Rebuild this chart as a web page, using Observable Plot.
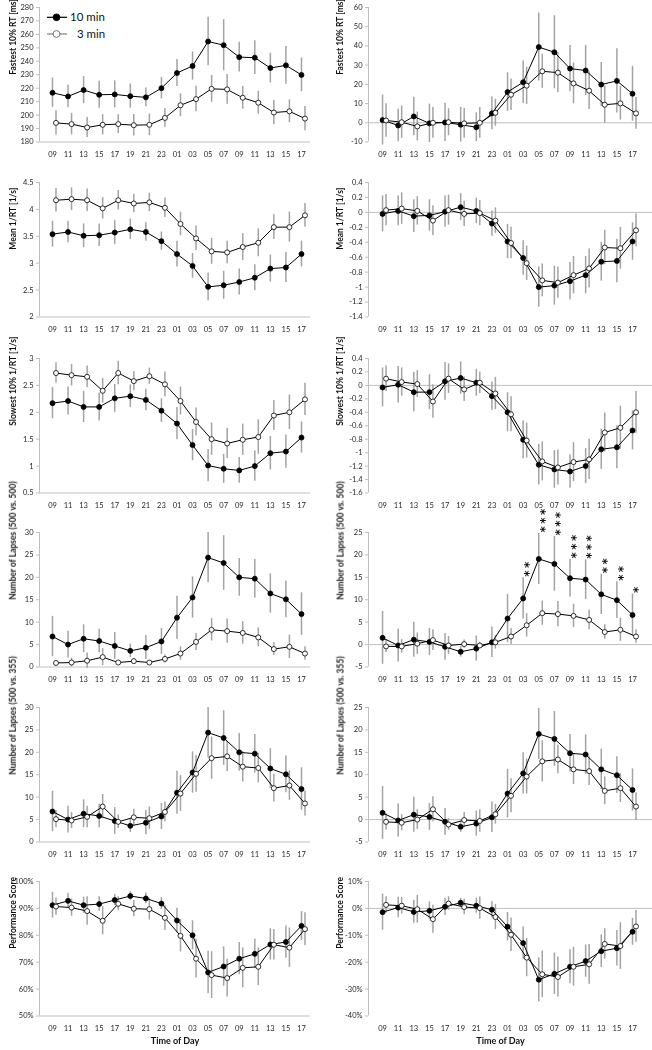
<!DOCTYPE html>
<html><head><meta charset="utf-8">
<script src="https://cdn.jsdelivr.net/npm/d3@7"></script>
<script src="https://cdn.jsdelivr.net/npm/@observablehq/plot@0.6"></script>
<style>
body{margin:0;background:#fff;}
#wrap{position:relative;width:652px;height:1050px;overflow:hidden;font-family:Lato,"Open Sans",sans-serif;background:#fff;}
#wrap svg{position:absolute;}
</style></head><body><div id="wrap"></div>
<script>
const hours = ["09","11","13","15","17","19","21","23","01","03","05","07","09","11","13","15","17"];

const fastRT10 = [216.6,213.9,218.6,215.1,215.4,214.1,213.2,220.0,231.3,236.5,254.7,252.0,243.1,242.7,235.0,237.0,229.9];
const fastRT10Err = [11,8.5,10,10,10,9,7,8,10,10.5,18,19,11,12.5,11,14,12.5];
const fastRT3 = [194.2,193.3,190.8,192.8,193.3,192.5,192.8,197.9,207.3,211.9,219.5,219.1,212.9,209.2,201.9,202.8,197.4];
const fastRT3Err = [9,8,7.5,7.5,7,8,8,7,8.5,9.5,10,11,8.5,8.5,9,8.5,9];

const fastDiff10 = [1.4,-1.4,3.3,-0.3,0.2,-1.0,-2.3,4.9,16.0,21.1,39.4,36.7,28.2,27.2,19.9,21.8,15.1];
const fastDiff10Err = [13,8.5,10,10,10,9,7.5,8.5,10,11,17.7,19,12,13,11.5,16.7,14.3];
const fastDiff3 = [1.2,0.3,-1.9,0,0.3,-0.3,0,5.2,14.6,19.3,26.8,26.1,20.5,16.7,9.4,10.1,4.9];
const fastDiff3Err = [8.7,8.4,7.5,8,7,7.7,8,7,8.2,9.7,8.9,10.4,10.6,9.8,9.7,8.7,8.2];

const meanRT10 = [3.54,3.58,3.51,3.52,3.57,3.63,3.58,3.41,3.17,2.95,2.56,2.59,2.65,2.73,2.90,2.92,3.17];
const meanRT10Err = [0.24,0.2,0.22,0.21,0.22,0.19,0.17,0.17,0.24,0.23,0.26,0.26,0.24,0.24,0.25,0.28,0.24];
const meanRT3 = [4.17,4.19,4.17,4.02,4.17,4.11,4.13,4.03,3.73,3.46,3.22,3.20,3.30,3.38,3.67,3.67,3.89];
const meanRT3Err = [0.22,0.21,0.21,0.2,0.18,0.17,0.17,0.18,0.22,0.23,0.24,0.21,0.25,0.26,0.23,0.28,0.22];

const meanDiff10 = [-0.02,0.02,-0.05,-0.04,0.01,0.07,0.02,-0.15,-0.39,-0.61,-1.00,-0.98,-0.92,-0.84,-0.66,-0.65,-0.39];
const meanDiff10Err = [0.24,0.2,0.22,0.21,0.21,0.18,0.17,0.17,0.23,0.23,0.27,0.26,0.25,0.25,0.26,0.29,0.25];
const meanDiff3 = [0.03,0.05,0.02,-0.11,0.03,-0.02,-0.01,-0.11,-0.41,-0.68,-0.91,-0.94,-0.84,-0.75,-0.47,-0.48,-0.24];
const meanDiff3Err = [0.21,0.21,0.19,0.2,0.2,0.17,0.17,0.17,0.21,0.23,0.22,0.21,0.25,0.26,0.23,0.28,0.22];

const slowRT10 = [2.17,2.21,2.10,2.10,2.26,2.30,2.23,2.03,1.79,1.39,1.01,0.95,0.92,1.00,1.24,1.27,1.53];
const slowRT10Err = [0.29,0.26,0.29,0.26,0.26,0.21,0.2,0.22,0.3,0.29,0.3,0.27,0.24,0.28,0.31,0.31,0.29];
const slowRT3 = [2.73,2.69,2.66,2.40,2.73,2.58,2.67,2.52,2.21,1.82,1.50,1.42,1.49,1.54,1.94,2.00,2.24];
const slowRT3Err = [0.19,0.2,0.2,0.23,0.22,0.18,0.15,0.23,0.26,0.26,0.3,0.28,0.29,0.32,0.28,0.32,0.3];

const slowDiff10 = [-0.03,0.01,-0.10,-0.10,0.06,0.11,0.04,-0.16,-0.40,-0.81,-1.18,-1.25,-1.28,-1.20,-0.95,-0.92,-0.67];
const slowDiff10Err = [0.29,0.27,0.29,0.26,0.28,0.24,0.2,0.21,0.29,0.28,0.3,0.28,0.25,0.26,0.3,0.32,0.29];
const slowDiff3 = [0.10,0.05,0.02,-0.24,0.10,-0.06,0.04,-0.12,-0.43,-0.82,-1.13,-1.22,-1.14,-1.10,-0.70,-0.63,-0.40];
const slowDiff3Err = [0.19,0.21,0.2,0.25,0.22,0.18,0.16,0.24,0.26,0.26,0.29,0.26,0.29,0.3,0.29,0.32,0.31];

const lapses10 = [6.8,5.0,6.3,5.8,4.7,3.6,4.3,5.7,11.0,15.5,24.4,23.2,20.0,19.7,16.4,15.1,11.8];
const lapses10Err = [4.5,3,3.1,2.6,3,1.5,2.7,2.9,4.8,4.6,5.6,6.1,4.2,4.3,4.4,4.1,4.75];
const lapses500_3 = [0.9,1.0,1.4,2.2,1.0,1.3,1.0,1.8,3.0,5.6,8.3,8.0,7.6,6.6,4.0,4.5,3.0];
const lapses500_3Err = [0.4,1.0,1.7,1.9,0.5,0.6,0.4,0.9,1.5,1.9,2.5,2.7,2.5,2.1,1.4,2.6,1.5];

const lapsesDiff10 = [1.5,-0.2,1.1,0.6,-0.5,-1.6,-0.9,0.5,5.8,10.3,19.1,18.0,14.8,14.5,11.2,9.9,6.6];
const lapsesDiff10Err = [5.9,3.7,3.9,3,3,1.2,2.8,3.4,5.4,4.6,5.7,6.1,4.2,4.4,4.5,4.1,4.7];
const lapses500Diff3 = [-0.4,-0.4,0.2,1.0,-0.2,0.1,-0.2,0.5,1.8,4.3,7.0,6.8,6.4,5.5,2.8,3.3,1.8];
const lapses500Diff3Err = [1.4,1.5,2.4,2.3,2.0,0.9,0.7,1.5,1.8,2.6,2.7,2.8,2.6,2.2,1.6,2.6,1.5];

const lapses355_3 = [5.1,4.8,5.6,7.9,4.5,5.5,5.3,6.7,10.8,15.2,18.7,19.1,16.8,16.5,12.0,12.6,8.6];
const lapses355_3Err = [1.9,1.8,2.4,2.7,1.5,1.8,2.5,2.2,4,4.1,4.7,3.4,3.4,3.3,3.1,3.3,2.8];
const lapses355Diff3 = [-0.5,-0.7,0,2.3,-1.1,-0.1,-0.3,1.2,5.3,9.6,13.0,13.4,11.2,10.8,6.4,7.0,2.9];
const lapses355Diff3Err = [1.8,1.8,2.2,2.8,1.3,1.7,2.5,2.2,3.8,3.9,4.6,3.2,3.4,3.2,3.1,3.2,3.1];

const perf10 = [91.2,92.8,91.2,91.6,93.1,94.6,93.7,91.8,85.5,80.0,66.2,68.4,71.3,73.1,76.6,77.5,83.5];
const perf10Err = [4.8,2.8,3,2.7,2.1,1.6,2,2.2,4.6,5.4,7.9,7.3,6,5.4,5.8,6,5.3];
const perf3 = [90.7,90.3,89.0,85.4,91.7,89.9,89.7,86.5,79.8,71.3,65.2,64.1,67.9,68.3,76.5,75.4,82.3];
const perf3Err = [3.2,3.2,5.3,5.2,2.6,3,4,4.7,6,7.2,8.7,7,7.4,7,5.7,7.3,6.1];

const perfDiff10 = [-1.4,0.3,-1.3,-0.9,0.6,2.1,1.0,-0.5,-6.8,-12.9,-26.5,-24.3,-21.7,-19.6,-15.9,-14.8,-8.7];
const perfDiff10Err = [6.7,3.8,4.2,3.3,3.2,1.6,2.8,3,5.3,6,8.2,7.7,6.3,6,6.1,6.6,5];
const perfDiff3 = [1.3,1.0,-0.3,-4.0,1.8,0.5,0.1,-3.2,-9.8,-18.3,-24.5,-25.5,-21.7,-20.8,-13.2,-14.0,-6.7];
const perfDiff3Err = [3,3.1,5.2,5.2,2.5,2.9,4.1,4.7,6.2,7.1,8.7,7.4,7.2,7.4,5.6,8.7,5.9];

const lapsesStars = ["","","","","","","","","","**","***","***","***","***","**","**","*"];

const ticksFast = [180,190,200,210,220,230,240,250,260,270,280];
const ticksFastDiff = [-10,0,10,20,30,40,50,60];
const ticksMean = [2,2.5,3,3.5,4,4.5];
const ticksMeanDiff = [-1.4,-1.2,-1,-0.8,-0.6,-0.4,-0.2,0,0.2,0.4];
const ticksSlow = [0.5,1,1.5,2,2.5,3];
const ticksSlowDiff = [-1.6,-1.4,-1.2,-1,-0.8,-0.6,-0.4,-0.2,0,0.2,0.4];
const ticksLapses = [0,5,10,15,20,25,30];
const ticksLapsesDiff = [-5,0,5,10,15,20,25];
const ticksPerf = [50,60,70,80,90,100];
const ticksPerfDiff = [-40,-30,-20,-10,0,10];

const seriesLegend = ["10 min", "3 min"];

const numFmt = d => String(Math.round(d * 10) / 10);
const pctFmt = d => Math.round(d) + "%";

const panels = [
  {col:0,row:0,label:"Fastest 10% RT [ms]",s10:fastRT10,e10:fastRT10Err,s3:fastRT3,e3:fastRT3Err,ticks:ticksFast,fmt:numFmt},
  {col:1,row:0,label:"Fastest 10% RT [ms]",s10:fastDiff10,e10:fastDiff10Err,s3:fastDiff3,e3:fastDiff3Err,ticks:ticksFastDiff,fmt:numFmt},
  {col:0,row:1,label:"Mean 1/RT [1/s]",s10:meanRT10,e10:meanRT10Err,s3:meanRT3,e3:meanRT3Err,ticks:ticksMean,fmt:numFmt},
  {col:1,row:1,label:"Mean 1/RT [1/s]",s10:meanDiff10,e10:meanDiff10Err,s3:meanDiff3,e3:meanDiff3Err,ticks:ticksMeanDiff,fmt:numFmt},
  {col:0,row:2,label:"Slowest 10% 1/RT [1/s]",s10:slowRT10,e10:slowRT10Err,s3:slowRT3,e3:slowRT3Err,ticks:ticksSlow,fmt:numFmt},
  {col:1,row:2,label:"Slowest 10% 1/RT [1/s]",s10:slowDiff10,e10:slowDiff10Err,s3:slowDiff3,e3:slowDiff3Err,ticks:ticksSlowDiff,fmt:numFmt},
  {col:0,row:3,label:"Number of Lapses (500 vs. 500)",s10:lapses10,e10:lapses10Err,s3:lapses500_3,e3:lapses500_3Err,ticks:ticksLapses,fmt:numFmt},
  {col:1,row:3,label:"Number of Lapses (500 vs. 500)",s10:lapsesDiff10,e10:lapsesDiff10Err,s3:lapses500Diff3,e3:lapses500Diff3Err,ticks:ticksLapsesDiff,fmt:numFmt,stars:lapsesStars},
  {col:0,row:4,label:"Number of Lapses (500 vs. 355)",s10:lapses10,e10:lapses10Err,s3:lapses355_3,e3:lapses355_3Err,ticks:ticksLapses,fmt:numFmt},
  {col:1,row:4,label:"Number of Lapses (500 vs. 355)",s10:lapsesDiff10,e10:lapsesDiff10Err,s3:lapses355Diff3,e3:lapses355Diff3Err,ticks:ticksLapsesDiff,fmt:numFmt},
  {col:0,row:5,label:"Performance Score",s10:perf10,e10:perf10Err,s3:perf3,e3:perf3Err,ticks:ticksPerf,fmt:pctFmt,xLabel:"Time of Day"},
  {col:1,row:5,label:"Performance Score",s10:perfDiff10,e10:perfDiff10Err,s3:perfDiff3,e3:perfDiff3Err,ticks:ticksPerfDiff,fmt:pctFmt,xLabel:"Time of Day"}
];

const rowTops = [0, 175, 351, 525, 700, 874];
const wrap = document.getElementById("wrap");
const GRID = "#bfbfbf", ERR = "#a3a3a3", DX3 = 3.5;

function makePanel(p) {
  const left = p.col === 0;
  const d10 = hours.map((h, i) => ({i, v: p.s10[i], e: p.e10[i], star: p.stars ? p.stars[i] : ""}));
  const d3s = hours.map((h, i) => ({i, v: p.s3[i], e: p.e3[i]}));
  const ml = left ? 39 : 42, mr = left ? 16 : 0;
  const xDomain = left ? [-0.835, 16.58] : [-0.9, 17.28];
  const yDomain = [p.ticks[0], p.ticks[p.ticks.length - 1]];
  const height = p.row === 5 ? 176 : 175;
  const marks = [
    left ? Plot.ruleY([yDomain[0]], {stroke: GRID, strokeWidth: 1}) : Plot.ruleY([0], {stroke: GRID, strokeWidth: 1}),
    Plot.ruleX([xDomain[0]], {stroke: GRID, strokeWidth: 1}),
    Plot.axisY({ticks: p.ticks, tickSize: 3, tickPadding: 3, tickFormat: p.fmt, fontSize: 7.5, stroke: GRID, fill: "#262626", label: null}),
    Plot.axisX({ticks: hours.map((h, i) => i), tickFormat: i => hours[i], tickSize: 0, tickPadding: 10, fontSize: 7.5, fill: "#262626", label: null}),
    Plot.ruleX(d10, {x: "i", y1: d => d.v - d.e, y2: d => d.v + d.e, stroke: ERR, strokeWidth: 1.5}),
    Plot.ruleX(d3s, {x: "i", y1: d => d.v - d.e, y2: d => d.v + d.e, stroke: ERR, strokeWidth: 1.5, dx: DX3}),
    Plot.line(d10, {x: "i", y: "v", stroke: "black", strokeWidth: 1}),
    Plot.line(d3s, {x: "i", y: "v", stroke: "black", strokeWidth: 1, dx: DX3}),
    Plot.dot(d10, {x: "i", y: "v", r: 2.5, fill: "black", stroke: "black", strokeWidth: 0.8}),
    Plot.dot(d3s, {x: "i", y: "v", r: 2.5, fill: "white", stroke: "black", strokeWidth: 0.8, dx: DX3}),
    Plot.text([p.label], {frameAnchor: "left", rotate: -90, dx: left ? -26.7 : -28, fontSize: 8.5, fontWeight: "bold", fill: "#111"})
  ];
  if (p.stars) {
    // significance stars stacked vertically above the 10-min error bars
    marks.push(Plot.text(d10.filter(d => d.star), {
      x: "i", y: d => d.v + d.e, text: d => d.star.split("").join("\u2009"),
      rotate: -90, textAnchor: "start", fontFamily: "DejaVu Sans", fontSize: 12, fontWeight: "bold",
      dx: 6, dy: -1, fill: "#111"
    }));
  }
  if (p.xLabel) {
    marks.push(Plot.text([p.xLabel], {frameAnchor: "bottom", dy: 28, dx: left ? 0 : -10, fontSize: 9, fontWeight: "bold", fill: "#111"}));
  }
  const svg = Plot.plot({
    width: 326, height,
    marginLeft: ml, marginRight: mr, marginTop: 7, marginBottom: height - 7 - 134.5,
    x: {type: "linear", domain: xDomain, axis: null},
    y: {domain: yDomain, axis: null},
    style: {background: "transparent", overflow: "visible", fontFamily: "Lato, 'Open Sans', sans-serif", filter: "grayscale(1)"},
    marks
  });
  svg.style.left = (left ? 0 : 326) + "px";
  svg.style.top = rowTops[p.row] + "px";
  wrap.appendChild(svg);
}
panels.forEach(makePanel);

// legend (inside top-left panel)
const ns = "http://www.w3.org/2000/svg";
const lg = document.createElementNS(ns, "svg");
lg.setAttribute("width", 130); lg.setAttribute("height", 45);
lg.style.left = "0px"; lg.style.top = "0px";
lg.style.fontFamily = "Lato, 'Open Sans', sans-serif";
const rows = [{y: 17.3, fill: "black", stroke: "black", tx: 70, label: seriesLegend[0]}, {y: 34, fill: "white", stroke: "#7f7f7f", tx: 77, label: seriesLegend[1]}];
rows.forEach(r => {
  const l = document.createElementNS(ns, "line");
  l.setAttribute("x1", 47); l.setAttribute("x2", 67); l.setAttribute("y1", r.y); l.setAttribute("y2", r.y);
  l.setAttribute("stroke", r.stroke); l.setAttribute("stroke-width", 1.2);
  lg.appendChild(l);
  const c = document.createElementNS(ns, "circle");
  c.setAttribute("cx", 56.5); c.setAttribute("cy", r.y); c.setAttribute("r", 3.4);
  c.setAttribute("fill", r.fill); c.setAttribute("stroke", r.fill === "white" ? "#555" : "black"); c.setAttribute("stroke-width", 0.8);
  lg.appendChild(c);
  const t = document.createElementNS(ns, "text");
  t.setAttribute("x", r.tx); t.setAttribute("y", r.y + 4); t.setAttribute("font-size", 11.5); t.setAttribute("fill", "#111");
  t.textContent = r.label;
  lg.appendChild(t);
});
wrap.appendChild(lg);
</script></body></html>
